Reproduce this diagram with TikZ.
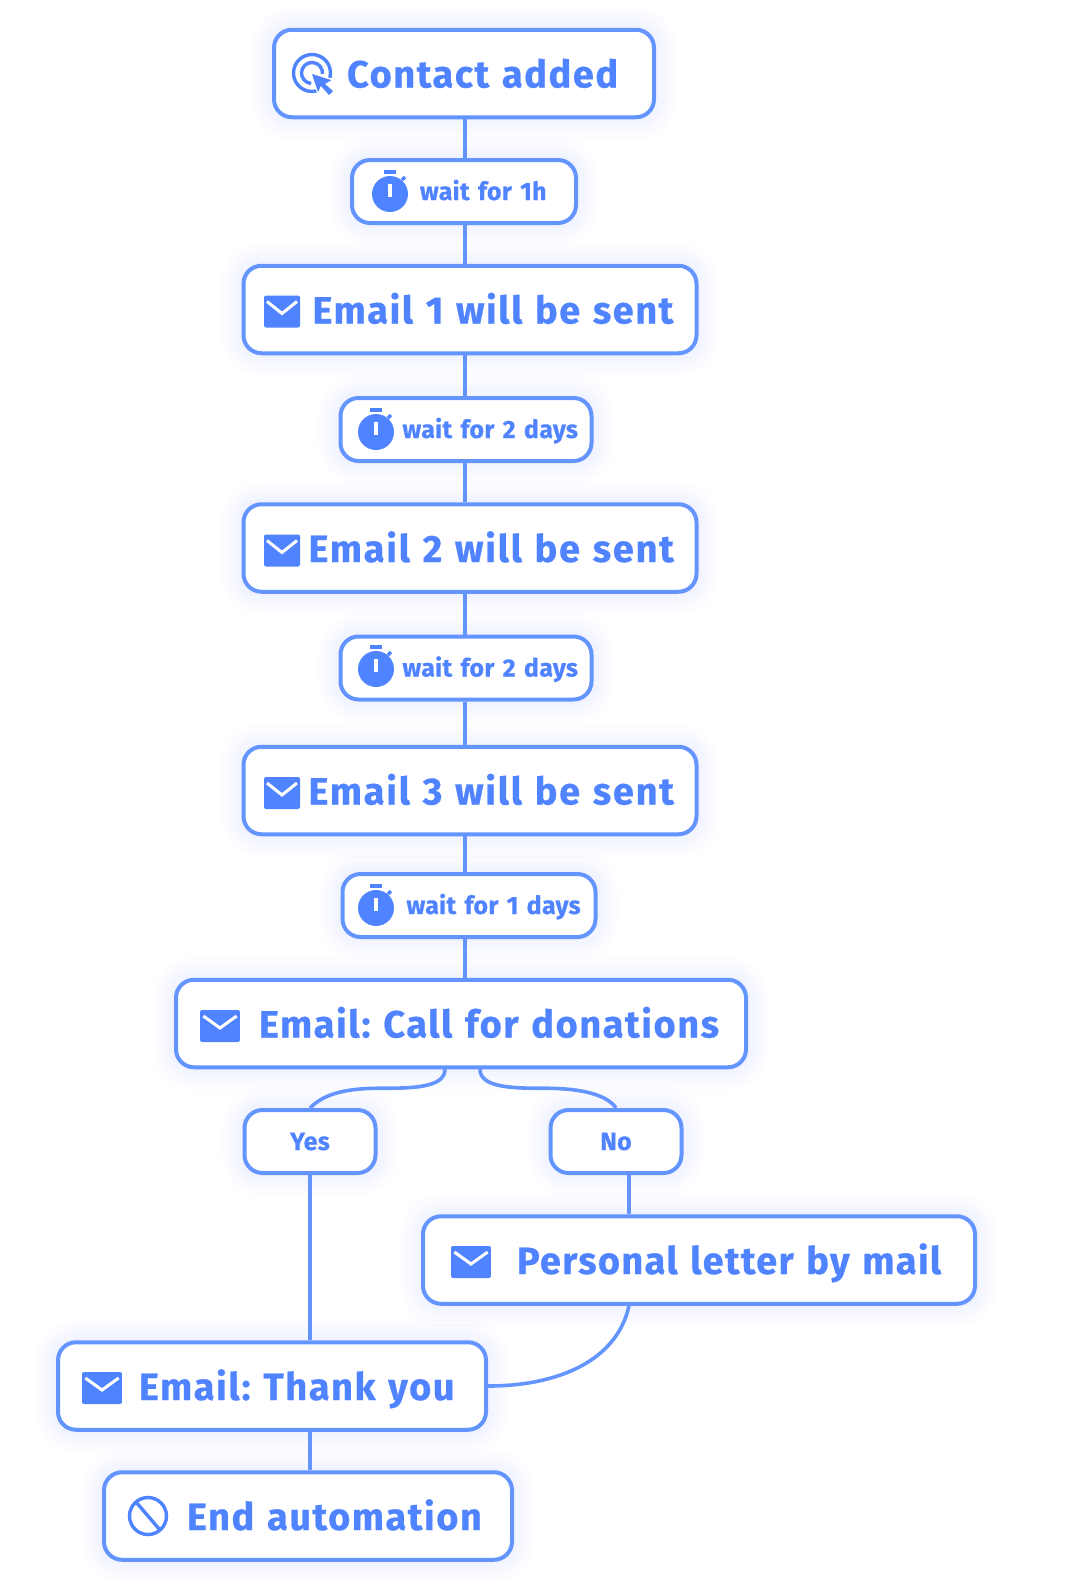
\documentclass[tikz,border=0pt]{standalone}
\usepackage{fontspec}
\setmainfont{Fira Sans}
\usepackage{tikz}
\usetikzlibrary{positioning}
\definecolor{boxblue}{RGB}{100,149,255}
\definecolor{inkblue}{RGB}{79,131,255}
\definecolor{glowblue}{RGB}{120,140,255}
\newfontfamily\bigface[LetterSpace=4.0,FakeBold=0.45]{Fira Sans Bold}
\newfontfamily\smallface[LetterSpace=1.2,FakeBold=0.45]{Fira Sans Bold}
\tikzstyle{glowbox}=[draw=boxblue,fill=white,line width=4pt,rounded corners=18pt,inner sep=0pt,
  preaction={draw=glowblue,draw opacity=.02,line width=46pt},
  preaction={draw=glowblue,draw opacity=.02,line width=36pt},
  preaction={draw=glowblue,draw opacity=.02,line width=26pt},
  preaction={draw=glowblue,draw opacity=.022,line width=18pt},
  preaction={draw=glowblue,draw opacity=.022,line width=10pt}]
\tikzstyle{bigbox}=[glowbox,minimum height=87.5pt,align=left,text=inkblue,text height=28pt,text depth=0pt,
  font=\frenchspacing\bigface\fontsize{38}{38}\selectfont]
\tikzstyle{waitbox}=[glowbox,minimum height=63pt,align=left,text=inkblue,text height=17pt,text depth=0pt,
  font=\frenchspacing\smallface\fontsize{25}{25}\selectfont]
\tikzstyle{choicebox}=[glowbox,minimum height=63pt,minimum width=131pt,text=inkblue,text height=17pt,text depth=0pt,
  font=\frenchspacing\smallface\fontsize{25}{25}\selectfont]
\tikzstyle{link}=[draw=boxblue,line width=3.6pt]
\tikzset{
  mailicon/.pic={
    \fill[inkblue,rounded corners=2pt] (-18,-16) rectangle (18,16);
    \draw[white,line width=3pt] (-15,-10) -- (0,2) -- (15,-10);
  },
  watchicon/.pic={
    \fill[inkblue] (0,0) circle (18);
    \fill[inkblue] (-6,-24) rectangle (6,-20);
    \draw[inkblue,line width=3.5pt] (12,-14) -- (15,-17);
    \draw[white,line width=4pt] (0,-10) -- (0,3);
  },
  clickicon/.pic={
    \draw[inkblue,line width=3.4pt] (15:18.5) arc[start angle=15,end angle=-285,radius=18.5];
    \draw[inkblue,line width=3.4pt] (5:10.5) arc[start angle=5,end angle=-265,radius=10.5];
    \fill[inkblue,draw=white,line width=1pt] (-1,0) -- (21,7) -- (14,11) -- (22,18) -- (17,23) -- (9,14) -- (6,21) -- cycle;
  },
  stopicon/.pic={
    \draw[inkblue,line width=3.4pt] (0,0) circle (18.5);
    \draw[inkblue,line width=3.4pt] (-12,-14) -- (12,14);
  }
}
\begin{document}
\begin{tikzpicture}[x=1pt,y=-1pt]
  \useasboundingbox (0,0) rectangle (1074,1590);
  \coordinate (spine) at (465,0);
  % boxes of the main chain
  \node [bigbox,text width=380pt] (contact) at (464,73.5) {\hspace*{73pt}Contact added};
  \node [waitbox,text width=224pt] (wait1h) at (464,191.5) {\hspace*{68pt}wait for 1h};
  \node [bigbox,text width=453pt] (email1) at (470,309.5) {\hspace*{69pt}Email 1 will be sent};
  \node [waitbox,text width=251pt] (wait2a) at (466,429.5) {\hspace*{62pt}wait for 2 days};
  \node [bigbox,text width=453pt] (email2) at (470,548) {\hspace*{65pt}\addfontfeature{LetterSpace=4.6}Email 2 will be sent};
  \node [waitbox,text width=251pt] (wait2b) at (466,668) {\hspace*{62pt}wait for 2 days};
  \node [bigbox,text width=453pt] (email3) at (470,790.5) {\hspace*{65pt}\addfontfeature{LetterSpace=4.6}Email 3 will be sent};
  \node [waitbox,text width=253pt] (wait1d) at (469,905.5) {\hspace*{64pt}wait for 1 days};
  \node [bigbox,text width=570pt] (call) at (461,1023.5) {\hspace*{83pt}Email: Call for donations};
  % the two branches
  \node [choicebox] (yes) at (310,1141.5) {Yes};
  \node [choicebox] (no) at (616,1141.5) {No};
  \node [bigbox,text width=552pt] (letter) at (699,1260) {\hspace*{94pt}\addfontfeature{LetterSpace=3.4}Personal letter by mail};
  \node [bigbox,text width=428pt] (thanks) at (272,1386) {\hspace*{81pt}Email: Thank you};
  \node [bigbox,text width=408pt] (end) at (308,1516) {\hspace*{83pt}End automation};
  % connectors
  \draw [link] (contact.south -| spine) -- (wait1h.north -| spine);
  \draw [link] (wait1h.south -| spine) -- (email1.north -| spine);
  \draw [link] (email1.south -| spine) -- (wait2a.north -| spine);
  \draw [link] (wait2a.south -| spine) -- (email2.north -| spine);
  \draw [link] (email2.south -| spine) -- (wait2b.north -| spine);
  \draw [link] (wait2b.south -| spine) -- (email3.north -| spine);
  \draw [link] (email3.south -| spine) -- (wait1d.north -| spine);
  \draw [link] (wait1d.south -| spine) -- (call.north -| spine);
  \draw [link] ([xshift=-16pt]call.south) .. controls +(0,19) and +(30,0) .. ++(-65,19)
    .. controls +(-40,0) and +(12,-12) .. (yes.north);
  \draw [link] ([xshift=19pt]call.south) .. controls +(0,19) and +(-30,0) .. ++(65,19)
    .. controls +(40,0) and +(-8,-12) .. (no.north);
  \draw [link] (yes.south) -- (thanks.north -| yes.south);
  \draw [link] ([xshift=13pt]no.south) -- ([xshift=13pt]no.south |- letter.north);
  \draw [link] ([xshift=-70pt]letter.south) .. controls +(-12,55) and +(70,0) .. (thanks.east);
  \draw [link] (thanks.south -| yes.south) -- (end.north -| yes.south);
  % icons
  \pic at (312,73) {clickicon};
  \pic at (390,194) {watchicon};
  \pic at (282,311.5) {mailicon};
  \pic at (376,432) {watchicon};
  \pic at (282,550.5) {mailicon};
  \pic at (376,669) {watchicon};
  \pic at (282,793) {mailicon};
  \pic at (376,908) {watchicon};
  \pic [xscale=1.11] at (220,1026) {mailicon};
  \pic [xscale=1.11] at (471,1262) {mailicon};
  \pic [xscale=1.11] at (102,1388) {mailicon};
  \pic at (148,1516) {stopicon};
\end{tikzpicture}
\end{document}
